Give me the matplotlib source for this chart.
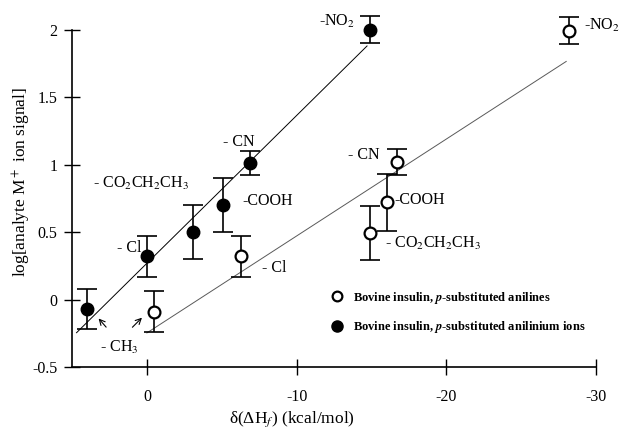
import numpy as np
import matplotlib
matplotlib.use("Agg")
import matplotlib.pyplot as plt
from matplotlib.lines import Line2D

plt.rcParams['font.family'] = ['Liberation Serif', 'DejaVu Serif']
plt.rcParams['mathtext.fontset'] = 'stix'

# anilinium ions (filled)
ion_x = [4.0, 0.0, -3.1, -5.1, -6.9, -14.9]
ion_y = [-0.07, 0.32, 0.50, 0.70, 1.01, 2.00]
ion_err = [0.15, 0.15, 0.20, 0.20, 0.09, 0.10]

# anilines (open)
ani_x = [-0.5, -6.3, -14.9, -16.0, -16.7, -28.2]
ani_y = [-0.09, 0.32, 0.49, 0.72, 1.02, 1.99]
ani_err = [0.15, 0.15, 0.20, 0.21, 0.095, 0.10]

ion_fit_range = [4.7, -14.7]
ani_fit_range = [0.0, -28.0]

xticks = [0, -10, -20, -30]
yticks = [-0.5, 0, 0.5, 1, 1.5, 2]

fig = plt.figure(figsize=(6.21, 4.29), dpi=100)
ax = fig.add_axes([0.116, 0.1445, 0.844, 0.7865])

# fitted lines
k1 = np.polyfit(ion_x, ion_y, 1)
xs = np.array(ion_fit_range)
ax.plot(xs, np.polyval(k1, xs), color='black', lw=0.7, zorder=1)
k2 = np.polyfit(ani_x, ani_y, 1)
xs = np.array(ani_fit_range)
ax.plot(xs, np.polyval(k2, xs), color='0.35', lw=0.7, zorder=1)

ax.errorbar(ion_x, ion_y, yerr=ion_err, fmt='none', ecolor='black', elinewidth=1.2,
            capsize=7.5, capthick=1.2, clip_on=False, zorder=2)
ax.errorbar(ani_x, ani_y, yerr=ani_err, fmt='none', ecolor='black', elinewidth=1.2,
            capsize=7.5, capthick=1.2, clip_on=False, zorder=2)
ax.plot(ion_x, ion_y, 'o', color='black', ms=9, clip_on=False, zorder=3)
ax.plot(ani_x, ani_y, 'o', mfc='white', mec='black', mew=1.6, ms=8.5, clip_on=False, zorder=3)

fs = 11.5
labels = [
    (-11.5, 2.03, '-NO$_2$'),
    (-29.2, 2.00, '-NO$_2$'),
    (-5.1, 1.14, '- CN'),
    (3.6, 0.83, '- CO$_2$CH$_2$CH$_3$'),
    (-6.4, 0.70, '-COOH'),
    (2.0, 0.35, '- Cl'),
    (-13.4, 1.044, '- CN'),
    (-16.5, 0.71, '-COOH'),
    (-15.9, 0.38, '- CO$_2$CH$_2$CH$_3$'),
    (-7.7, 0.207, '- Cl'),
    (3.1, -0.385, '- CH$_3$'),
]
for x, y, s in labels:
    ax.text(x, y, s, fontsize=fs, ha='left', va='baseline', clip_on=False)

ax.annotate('', xy=(3.35, -0.125), xytext=(2.6, -0.22),
            arrowprops=dict(arrowstyle='->', lw=0.8, color='black'))
ax.annotate('', xy=(0.2, -0.12), xytext=(1.1, -0.22),
            arrowprops=dict(arrowstyle='->', lw=0.8, color='black'))

handles = [Line2D([], [], ls='none', marker='o', mfc='white', mec='black', mew=1.6, ms=7),
           Line2D([], [], ls='none', marker='o', color='black', ms=8)]
names = ['Bovine insulin, $\\mathbfit{p}$-substituted anilines',
         'Bovine insulin, $\\mathbfit{p}$-substituted anilinium ions']
ax.legend(handles, names, frameon=False, loc='upper left', bbox_to_anchor=(0.47, 0.262),
          prop={'size': 9, 'weight': 'bold'}, handlelength=1.2, handletextpad=0.7,
          labelspacing=1.05)

ax.set_xlim(5, -30)
ax.set_ylim(-0.5, 2)
ax.set_xticks(xticks)
ax.set_xticklabels(['0', '-10', '-20', '-30'])
ax.set_yticks(yticks)
ax.set_yticklabels(['-0.5', '0', '0.5', '1', '1.5', '2'])
ax.tick_params(direction='inout', length=11, width=1, labelsize=11.5)
ax.tick_params(axis='x', pad=10)
ax.tick_params(axis='y', pad=5)
for s in ['top', 'right']:
    ax.spines[s].set_visible(False)
ax.spines['left'].set_linewidth(1.2)
ax.spines['bottom'].set_linewidth(1.2)

ax.set_ylabel('log[analyte M$^+$ ion signal]', fontsize=12.5)
ax.yaxis.set_label_coords(-0.074, 0.548)
ax.set_xlabel('\u03b4(\u0394H$_f$) (kcal/mol)', fontsize=12.5)
ax.xaxis.set_label_coords(0.42, -0.125)

fig.savefig('out.png', dpi=100)
